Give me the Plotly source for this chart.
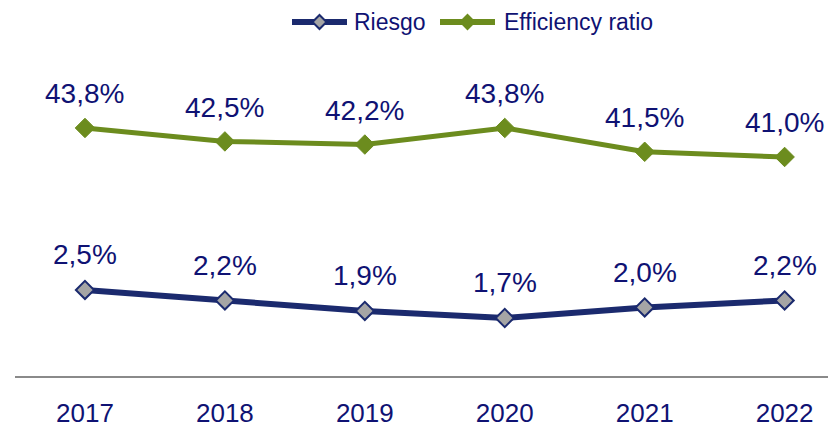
import plotly.graph_objects as go

years = ["2017", "2018", "2019", "2020", "2021", "2022"]
riesgo = [2.5, 2.2, 1.9, 1.7, 2.0, 2.2]
efficiency = [43.8, 42.5, 42.2, 43.8, 41.5, 41.0]

NAVY = "#1b2a6e"
TEXT = "#0f1273"
GREEN = "#6c8c1e"
MARKER_GREY = "#a5a5a5"
FONT = "Liberation Sans, Arial, sans-serif"

W, H = 828, 427
ML, MR, MT, MB = 15, 0, 40, 51
PW, PH = W - ML - MR, H - MT - MB

xs = list(range(len(years)))


def pct(v):
    return f"{v:.1f}".replace(".", ",") + "%"


def px(x):
    return (x - ML) / PW


def py(y):
    return (H - MB - y) / PH


fig = go.Figure()
fig.add_trace(go.Scatter(
    x=xs, y=riesgo, name="Riesgo", yaxis="y2", mode="lines+markers",
    line=dict(color=NAVY, width=6),
    marker=dict(symbol="diamond", size=14, color=MARKER_GREY,
                line=dict(color=NAVY, width=2)),
))
fig.add_trace(go.Scatter(
    x=xs, y=efficiency, name="Efficiency ratio", mode="lines+markers",
    line=dict(color=GREEN, width=5),
    marker=dict(symbol="diamond", size=15, color=GREEN,
                line=dict(color=GREEN, width=1)),
))

annotations = []
for x, v in zip(xs, efficiency):
    annotations.append(dict(x=x, y=v, xref="x", yref="y", text=pct(v),
                            showarrow=False, yshift=34, yanchor="middle",
                            font=dict(family=FONT, size=28, color=TEXT)))
for x, v in zip(xs, riesgo):
    annotations.append(dict(x=x, y=v, xref="x", yref="y2", text=pct(v),
                            showarrow=False, yshift=35, yanchor="middle",
                            font=dict(family=FONT, size=28, color=TEXT)))

# legend drawn by hand: long line sample with a diamond in the middle
shapes = []
legend_items = [
    ("Riesgo", NAVY, MARKER_GREY, 292, 347, 352),
    ("Efficiency ratio", GREEN, GREEN, 440, 495, 502),
]
ly = 22
for label, lc, fc, x0, x1, tx in legend_items:
    shapes.append(dict(type="line", xref="paper", yref="paper",
                       x0=px(x0), x1=px(x1), y0=py(ly), y1=py(ly),
                       line=dict(color=lc, width=6)))
    cx = (x0 + x1) / 2
    d = 7
    path = (f"M {px(cx - d)},{py(ly)} L {px(cx)},{py(ly - d)} "
            f"L {px(cx + d)},{py(ly)} L {px(cx)},{py(ly + d)} Z")
    shapes.append(dict(type="path", xref="paper", yref="paper", path=path,
                       fillcolor=fc, line=dict(color=lc, width=2)))
    annotations.append(dict(x=px(tx), y=py(ly), xref="paper", yref="paper",
                            text=label, showarrow=False, xanchor="left",
                            yanchor="middle",
                            font=dict(family=FONT, size=23, color=TEXT)))

fig.update_layout(
    width=W, height=H,
    margin=dict(l=ML, r=MR, t=MT, b=MB),
    paper_bgcolor="white", plot_bgcolor="white",
    font=dict(family=FONT, color=TEXT),
    showlegend=False,
    xaxis=dict(range=[-0.5, 5.31], tickvals=xs, ticktext=years,
               showgrid=False, zeroline=False, showline=True,
               linecolor="#8a8a8a", linewidth=2, ticks="",
               ticklabelstandoff=13,
               tickfont=dict(family=FONT, size=26, color=TEXT)),
    yaxis=dict(range=[19.86, 52.29], visible=False, showgrid=False),
    yaxis2=dict(range=[0.043, 9.64], overlaying="y", visible=False,
                showgrid=False),
    annotations=annotations,
    shapes=shapes,
)

fig.write_html("out.html")
